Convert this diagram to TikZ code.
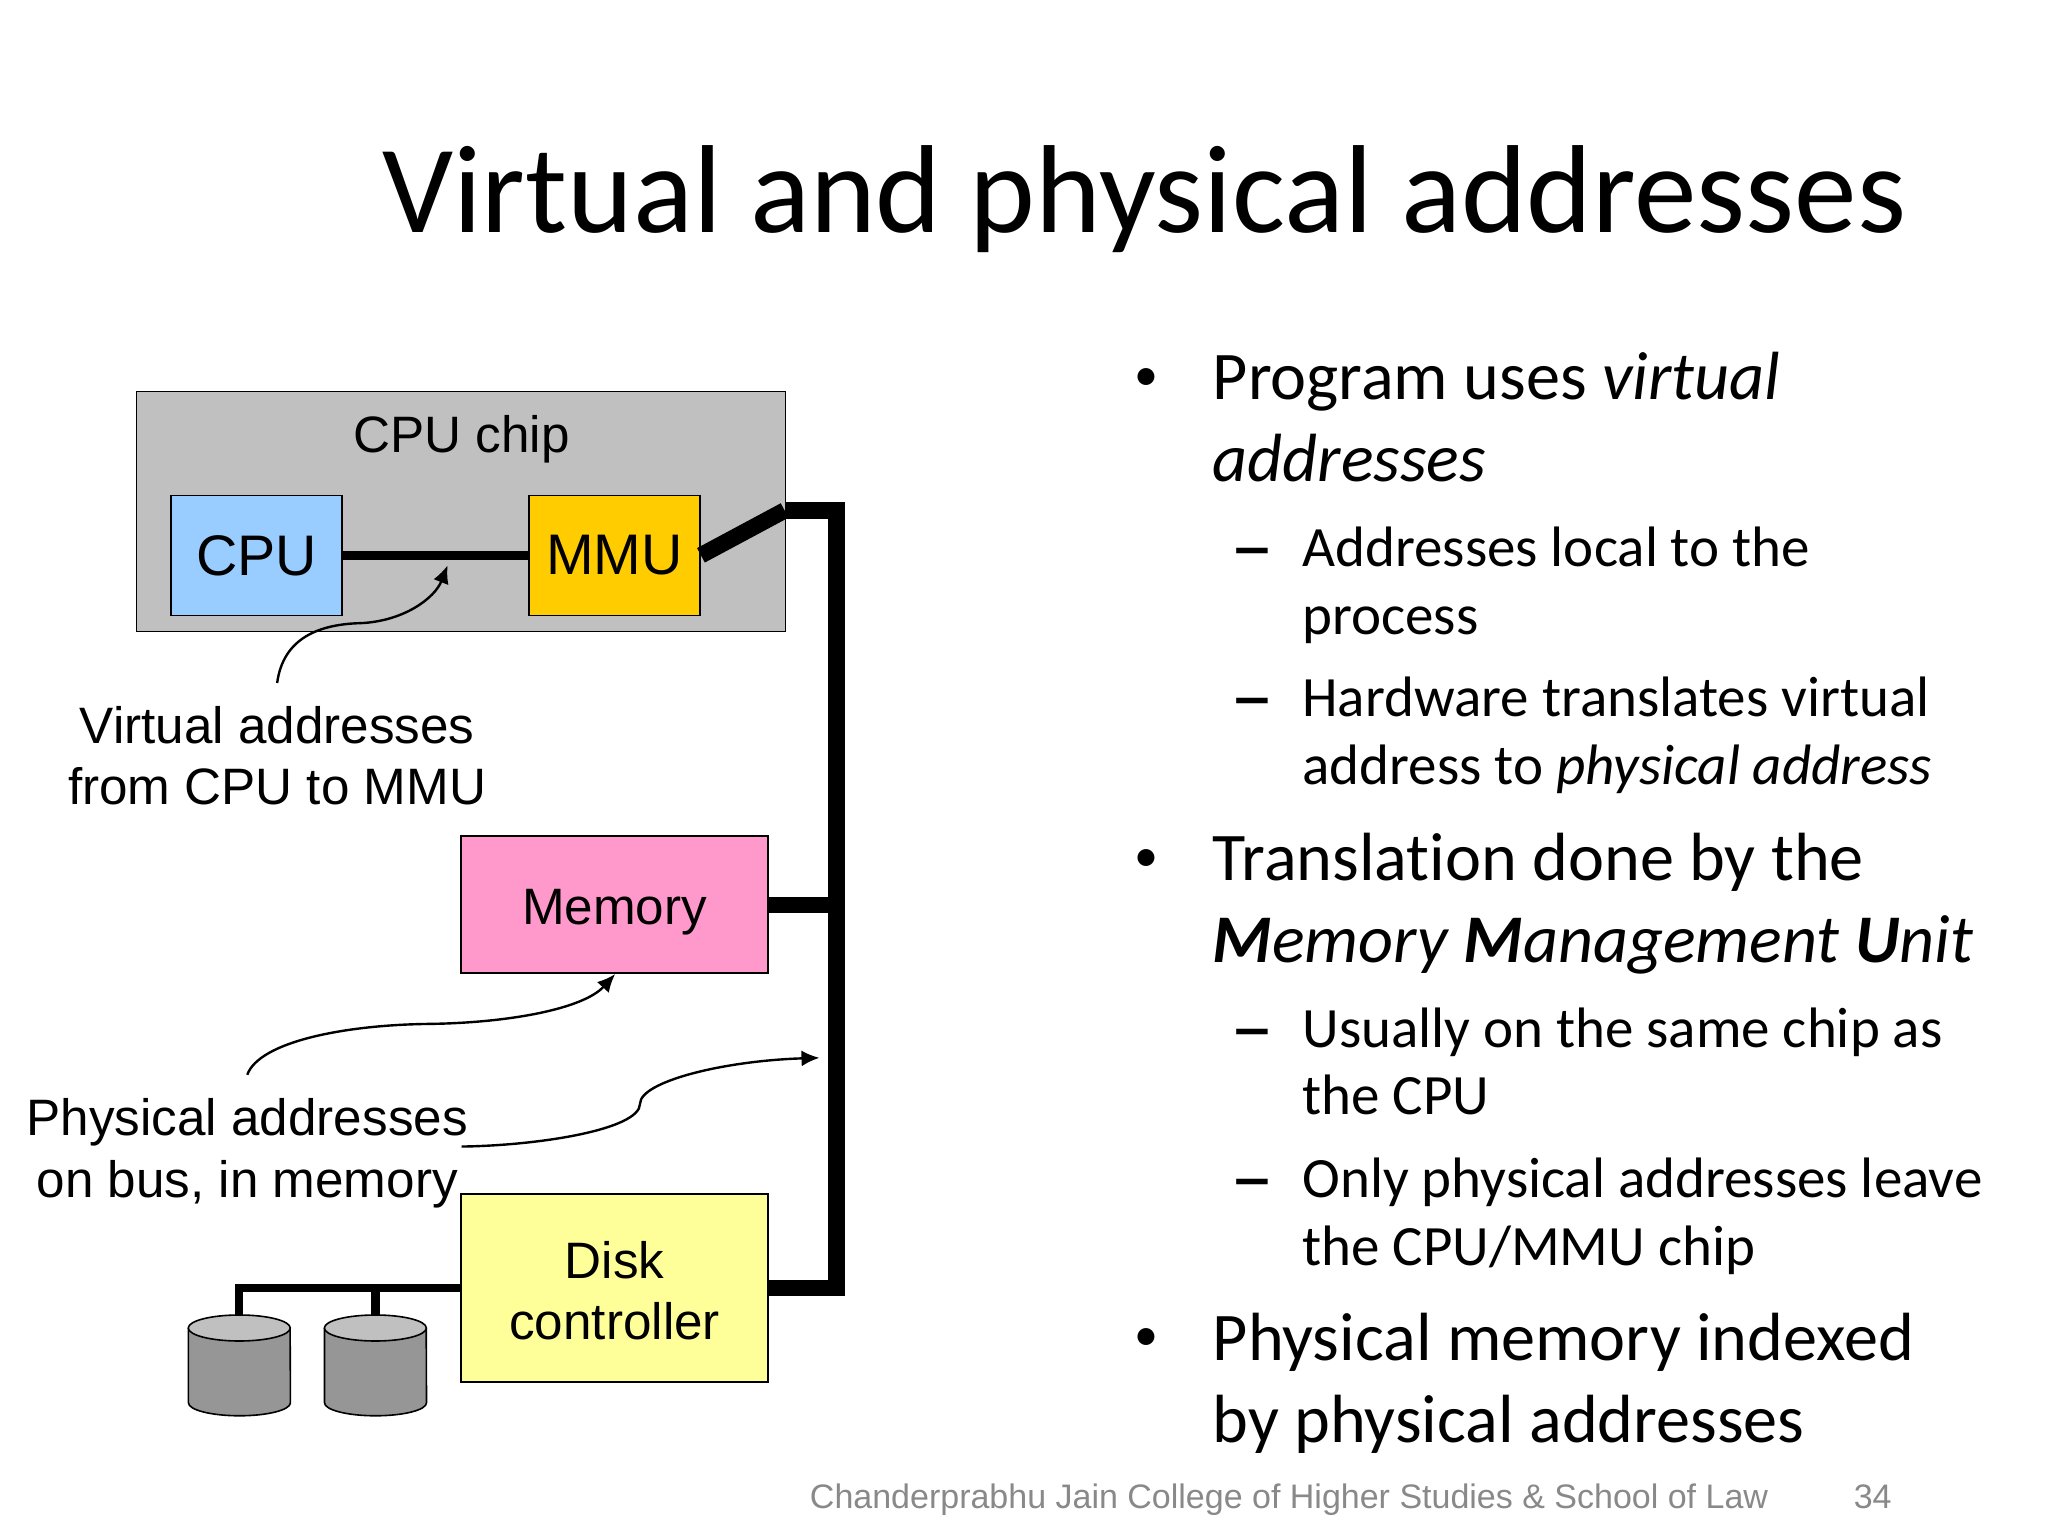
\documentclass[tikz,border=0pt]{standalone}
\usepackage{fontspec}
\usetikzlibrary{arrows.meta}
\setmainfont[Ligatures=NoCommon]{Carlito}
\newfontfamily\arialfont{Liberation Sans}
\definecolor{chipgray}{HTML}{C0C0C0}
\definecolor{cpublue}{HTML}{99CCFF}
\definecolor{mmugold}{HTML}{FFCC00}
\definecolor{mempink}{HTML}{FF99CC}
\definecolor{diskyellow}{HTML}{FFFF99}
\definecolor{diskgray}{HTML}{969696}
\definecolor{footgray}{HTML}{898989}
\tikzset{
  unitbox/.style={draw=black,line width=0.8pt,inner sep=0pt,align=center,font=\arialfont\fontsize{25.6}{30.8}\selectfont},
  bigbox/.style={unitbox,font=\arialfont\fontsize{28.6}{30.8}\selectfont},
  note/.style={inner sep=0pt,align=center,font=\arialfont\fontsize{25.6}{30.8}\selectfont},
  callout/.style={-{Latex[length=9pt,width=8pt]},line width=1.2pt},
  bus/.style={line width=8.2pt,line join=miter},
  wire/.style={line width=4.2pt},
  diskpart/.style={line width=0.8pt},
  bodyline/.style={anchor=base west,inner sep=0pt,font=\fontsize{34.1}{38}\selectfont},
  subline/.style={anchor=base west,inner sep=0pt,font=\fontsize{28.5}{32}\selectfont},
  bulletmark/.style={inner sep=0pt,font=\fontsize{24}{28}\selectfont},
  dashmark/.style={anchor=base west,inner sep=0pt,font=\fontsize{44}{48}\selectfont},
  footline/.style={anchor=base west,inner sep=0pt,text=footgray,font=\arialfont\fontsize{17}{22}\selectfont},
}
\begin{document}
\begin{tikzpicture}[x=0.4985pt,y=-0.4985pt]
      \useasboundingbox (0,0) rectangle (2054.2,1540.6);

      \node[anchor=base west,inner sep=0pt,font=\fontsize{62.6}{70}\selectfont] (title) at (383,233)
            {Virtual and physical addresses};

      \node[unitbox,fill=chipgray,minimum width=324.5pt,minimum height=120pt] (chip) at (462.5,513) {};
      \node[inner sep=0pt,font=\arialfont\fontsize{25.6}{30.8}\selectfont] (chiplabel) at (463,441) {CPU chip};
      \node[bigbox,fill=cpublue,minimum width=85.5pt,minimum height=60pt] (cpu) at (257.5,557) {CPU};
      \node[bigbox,fill=mmugold,minimum width=85.5pt,minimum height=60pt] (mmu) at (616.5,557) {MMU};
      \node[unitbox,fill=mempink,minimum width=153.5pt,minimum height=68.5pt] (mem) at (616.5,907.5) {\rule{0pt}{25pt}Memory};
      \node[unitbox,fill=diskyellow,minimum width=153.5pt,minimum height=94pt] (disk) at (616.5,1292) {\rule{0pt}{21pt}Disk\\controller};

      \coordinate (chipout) at (787,512);
      \coordinate (busturn) at (839,512);
      \coordinate (busdown) at (839,1292);
      \draw[wire] (cpu.east) -- (mmu.west);
      \draw[bus] (mmu.east) -- (chipout);
      \draw[bus] (chipout) -- (busturn) -- (busdown) -- (disk.east);
      \draw[bus] (mem.east) -- (mem.east -| busturn);

      \coordinate (disktopa) at (240,1332);
      \coordinate (disktopb) at (376.5,1332);
      \draw[wire] (disk.west) -- (disk.west -| disktopa) -- (disktopa);
      \draw[wire] (disk.west -| disktopb) -- (disktopb);

      \draw[diskpart,fill=diskgray] (189,1332) -- (189,1407)
            arc[start angle=180,end angle=360,x radius=25.5pt,y radius=6.5pt] -- (291,1332);
      \draw[diskpart,fill=chipgray] (disktopa) ellipse[x radius=25.5pt,y radius=6.5pt];
      \draw[diskpart,fill=diskgray] (325.5,1332) -- (325.5,1407)
            arc[start angle=180,end angle=360,x radius=25.5pt,y radius=6.5pt] -- (427.5,1332);
      \draw[diskpart,fill=chipgray] (disktopb) ellipse[x radius=25.5pt,y radius=6.5pt];

      \node[note] (virtlabel) at (278,758) {Virtual addresses\\from CPU to MMU};
      \node[note] (physlabel) at (248,1157) {Physical addresses\\on bus, in memory};

      \coordinate (virtstart) at (278,685);
      \coordinate (virttip) at (449,567);
      \coordinate (physstart) at (248,1078);
      \coordinate (memtip) at (617,977);
      \coordinate (busstart) at (463,1150);
      \coordinate (bustip) at (822,1061);
      \draw[callout] (virtstart) .. controls (284,640) and (320,626) .. (362,625)
            .. controls (405,623) and (436,600) .. (virttip);
      \draw[callout] (physstart) .. controls (260,1045) and (345,1028) .. (430,1027)
            .. controls (510,1026) and (585,1012) .. (memtip);
      \draw[callout] (busstart) .. controls (540,1149) and (642,1133) .. (642,1107)
            .. controls (642,1085) and (725,1064) .. (bustip);

      \node[bulletmark] (bulleta) at (1150,381) {•};
      \node[bodyline] (lineaa) at (1216,401) {Program uses \textit{virtual}};
      \node[bodyline] (lineab) at (1216,483) {\textit{addresses}};
      \node[dashmark] (dasha) at (1233.5,577) {–};
      \node[subline] (lineba) at (1306,568) {Addresses local to the};
      \node[subline] (linebb) at (1306,636) {process};
      \node[dashmark] (dashb) at (1233.5,728) {–};
      \node[subline] (linebc) at (1306,719) {Hardware translates virtual};
      \node[subline] (linebd) at (1306,787) {address to \textit{physical address}};

      \node[bulletmark] (bulletb) at (1150,863) {•};
      \node[bodyline] (lineca) at (1216,883) {Translation done by the};
      \node[bodyline] (linecb) at (1216,965) {\textit{\textbf{M}emory \textbf{M}anagement \textbf{U}nit}};
      \node[dashmark] (dashc) at (1233.5,1060) {–};
      \node[subline] (lineda) at (1306,1051) {Usually on the same chip as};
      \node[subline] (linedb) at (1306,1118) {the CPU};
      \node[dashmark] (dashd) at (1233.5,1210) {–};
      \node[subline] (linedc) at (1306,1201) {Only physical addresses leave};
      \node[subline] (linedd) at (1306,1269) {the CPU/MMU chip};

      \node[bulletmark] (bulletc) at (1150,1344) {•};
      \node[bodyline] (lineea) at (1216,1365) {Physical memory indexed};
      \node[bodyline] (lineeb) at (1216,1447) {by physical addresses};

      \node[footline] (footer) at (812,1513) {Chanderprabhu Jain College of Higher Studies \& School of Law};
      \node[footline] (pagenum) at (1859,1513) {34};
\end{tikzpicture}
\end{document}
